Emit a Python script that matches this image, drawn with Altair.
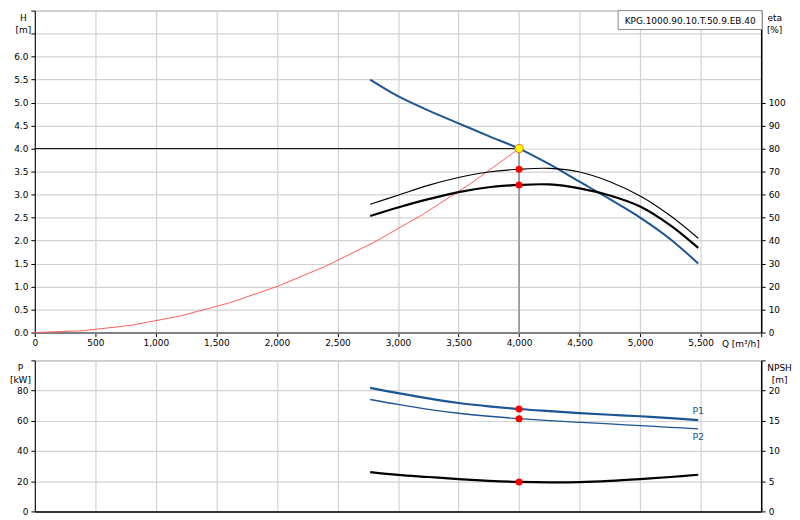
import altair as alt
import pandas as pd

# ---------------- data ----------------
Q_PUMP = [2770, 3000, 3250, 3500, 3750, 4000, 4250, 4500, 4750, 5000, 5250, 5480]
H_PUMP = [5.50, 5.14, 4.83, 4.55, 4.27, 4.00, 3.66, 3.28, 2.90, 2.50, 2.03, 1.50]
ETA_1 = [55.8, 59.7, 64.0, 67.4, 69.8, 71.0, 71.4, 69.8, 65.6, 59.4, 50.8, 41.0]
ETA_2 = [50.7, 54.4, 58.0, 61.1, 63.2, 64.2, 64.4, 62.7, 59.6, 54.8, 46.6, 36.8]
P1 = [81.8, 78.3, 74.8, 71.8, 69.6, 67.8, 66.4, 65.1, 64.0, 63.0, 61.8, 60.5]
P2 = [74.1, 70.8, 67.6, 65.0, 63.0, 61.4, 60.1, 59.0, 57.9, 56.8, 55.7, 54.6]
NPSH = [6.50, 6.05, 5.70, 5.35, 5.07, 4.88, 4.80, 4.85, 5.05, 5.35, 5.70, 6.07]

Q_SYS = [0, 400, 800, 1200, 1600, 2000, 2400, 2800, 3200, 3600, 4000]
H_SYS = [0.0, 0.04, 0.16, 0.36, 0.64, 1.00, 1.44, 1.96, 2.56, 3.24, 4.00]

Q_OP = 4000
H_OP = 4.0
ETA_OP = [71.0, 64.2]
P_OP = [67.8, 61.4]
NPSH_OP = 4.88

X_TICKS = list(range(0, 6001, 500))
H_TICKS = [i * 0.5 for i in range(15)]
ETA_TICKS = list(range(0, 101, 10))
P_TICKS = [0, 20, 40, 60, 80, 100]
NPSH_TICKS = [0, 5, 10, 15, 20, 25]
PUMP_NAME = "KPG.1000.90.10.T.50.9.EB.40"
P_LABELS = ["P1", "P2"]

# ---------------- style ----------------
FONT = "DejaVu Sans"
FS = 9
GRID = "#d2d2d2"
BLUE = "#1c5494"
W = 731
H_TOP = 324
H_BOT = 152
INTERP = "catmull-rom"

df_pump = pd.DataFrame({"Q": Q_PUMP, "H": H_PUMP, "eta1": ETA_1, "eta2": ETA_2,
                        "P1": P1, "P2": P2, "NPSH": NPSH})
df_sys = pd.DataFrame({"Q": Q_SYS, "H": H_SYS})
df_hline = pd.DataFrame({"Q": [0, Q_OP], "H": [H_OP, H_OP]})
df_vline = pd.DataFrame({"Q": [Q_OP], "H": [0.0], "H2": [H_OP]})
df_op = pd.DataFrame({"Q": [Q_OP], "H": [H_OP]})
df_eta_op = pd.DataFrame({"Q": [Q_OP, Q_OP], "eta": ETA_OP})
df_p_op = pd.DataFrame({"Q": [Q_OP, Q_OP], "P": P_OP})
df_n_op = pd.DataFrame({"Q": [Q_OP], "NPSH": [NPSH_OP]})
df_p1_lab = pd.DataFrame({"Q": [Q_PUMP[-1]], "P": [P1[-1]], "label": [P_LABELS[0]]})
df_p2_lab = pd.DataFrame({"Q": [Q_PUMP[-1]], "P": [P2[-1]], "label": [P_LABELS[1]]})

xscale = alt.Scale(domain=[0, 6000], nice=False, zero=False)

x_top = alt.X("Q:Q", scale=xscale, axis=alt.Axis(
    values=X_TICKS,
    labelExpr="datum.value >= 6000 ? '' : format(datum.value, ',')",
    labelFlush=False, title="Q [m³/h]", titleX=691, titleY=7,
    titleAlign="left", titleBaseline="top", titleFontWeight="normal",
    titleFont=FONT, titleFontSize=FS, grid=True, gridColor=GRID, gridWidth=1.2,
    domainColor="#808080", domainWidth=2, tickColor="#000", tickSize=4,
    labelPadding=2, labelFont=FONT, labelFontSize=FS, labelColor="#000"))

x_bot = alt.X("Q:Q", scale=xscale, axis=alt.Axis(
    values=X_TICKS, labels=False, ticks=False, title="",
    grid=True, gridColor=GRID, gridWidth=1.2,
    domainColor="#000", domainWidth=1.5))


def left_axis(values, expr, title, tx):
    return alt.Axis(values=values, labelExpr=expr, orient="left", title=title,
                    titleAngle=0, titleX=tx, titleY=3, titleAlign="center",
                    titleBaseline="top", titleFontWeight="normal", titleFont=FONT,
                    titleFontSize=FS, titleLineHeight=12, grid=True, gridColor=GRID,
                    gridWidth=1.2, domainColor="#000", domainWidth=1,
                    tickColor="#000", tickSize=4, labelPadding=3, labelFont=FONT,
                    labelFontSize=FS, labelColor="#000")


def right_axis(values, expr, title, tx):
    return alt.Axis(values=values, labelExpr=expr, orient="right", title=title,
                    titleAngle=0, titleX=tx, titleY=3, titleAlign="center",
                    titleBaseline="top", titleFontWeight="normal", titleFont=FONT,
                    titleFontSize=FS, titleLineHeight=12, grid=False,
                    domainColor="#000", domainWidth=1.5,
                    tickColor="#000", tickSize=4, labelPadding=3, labelFont=FONT,
                    labelFontSize=FS, labelColor="#000")


H_SCALE = alt.Scale(domain=[0, 7], nice=False)
H_AXIS = left_axis(H_TICKS, "datum.value > 6.1 ? '' : format(datum.value, '.1f')",
                   ["H", "[m]"], -12)
E_SCALE = alt.Scale(domain=[0, 140], nice=False)
E_AXIS = right_axis(ETA_TICKS, "format(datum.value, 'd')", ["eta", "[%]"], 13)
P_SCALE = alt.Scale(domain=[0, 100], nice=False)
P_AXIS = left_axis(P_TICKS, "datum.value >= 100 ? '' : format(datum.value, 'd')",
                   ["P", "[kW]"], -15)
N_SCALE = alt.Scale(domain=[0, 25], nice=False)
N_AXIS = right_axis(NPSH_TICKS, "datum.value >= 25 ? '' : format(datum.value, 'd')",
                    ["NPSH", "[m]"], 18)

yH = alt.Y("H:Q", scale=H_SCALE, axis=H_AXIS)
yP = alt.Y("P:Q", scale=P_SCALE, axis=P_AXIS)
yN = alt.Y("NPSH:Q", scale=N_SCALE, axis=N_AXIS)

# ---------------- top panel: H and eta ----------------
sys_curve = alt.Chart(df_sys).mark_line(color="#ff5c5c", strokeWidth=1).encode(x=x_top, y=yH)
hline = alt.Chart(df_hline).mark_line(color="#000", strokeWidth=1).encode(x=x_top, y=yH)
vline = alt.Chart(df_vline).mark_rule(color="#999", strokeWidth=1.8).encode(
    x=x_top, y=yH, y2=alt.Y2("H2:Q"))
h_curve = alt.Chart(df_pump).mark_line(color=BLUE, strokeWidth=2, interpolate=INTERP).encode(
    x=x_top, y=yH)
op_pt = alt.Chart(df_op).mark_point(filled=True, fill="#ffff00", stroke="#ff6a00",
                                    strokeWidth=1, size=70, opacity=1).encode(x=x_top, y=yH)
box = alt.Chart(df_op).mark_rect(fill="white", stroke="#888", strokeWidth=1).encode(
    x=alt.value(587), x2=alt.value(732), y=alt.value(0), y2=alt.value(19))
box_txt = alt.Chart(pd.DataFrame({"t": [PUMP_NAME]})).mark_text(
    font=FONT, fontSize=9, color="#000", align="center", baseline="middle").encode(
    text="t:N", x=alt.value(659.5), y=alt.value(10))

h_layer = alt.layer(sys_curve, hline, vline, h_curve, op_pt, box, box_txt)

eta1 = alt.Chart(df_pump).mark_line(color="#000", strokeWidth=1.1, interpolate=INTERP).encode(
    x=x_top, y=alt.Y("eta1:Q", scale=E_SCALE, axis=E_AXIS))
eta2 = alt.Chart(df_pump).mark_line(color="#000", strokeWidth=2.2, interpolate=INTERP).encode(
    x=x_top, y=alt.Y("eta2:Q", scale=E_SCALE, axis=E_AXIS))
eta_pts = alt.Chart(df_eta_op).mark_circle(color="#ff0000", size=50, opacity=1).encode(
    x=x_top, y=alt.Y("eta:Q", scale=E_SCALE, axis=E_AXIS))
eta_layer = alt.layer(eta1, eta2, eta_pts)

top = alt.layer(h_layer, eta_layer).resolve_scale(y="independent").properties(
    width=W, height=H_TOP)

# ---------------- bottom panel: P and NPSH ----------------
p1_line = alt.Chart(df_pump).mark_line(color=BLUE, strokeWidth=2.2, interpolate=INTERP).encode(
    x=x_bot, y=alt.Y("P1:Q", scale=P_SCALE, axis=P_AXIS))
p2_line = alt.Chart(df_pump).mark_line(color=BLUE, strokeWidth=1.3, interpolate=INTERP).encode(
    x=x_bot, y=alt.Y("P2:Q", scale=P_SCALE, axis=P_AXIS))
p_pts = alt.Chart(df_p_op).mark_circle(color="#ff0000", size=50, opacity=1).encode(
    x=x_bot, y=yP)
p1_lab = alt.Chart(df_p1_lab).mark_text(font=FONT, fontSize=9.5, color=BLUE, dy=-9,
                                        align="center").encode(x=x_bot, y=yP, text="label:N")
p2_lab = alt.Chart(df_p2_lab).mark_text(font=FONT, fontSize=9.5, color=BLUE, dy=8,
                                        align="center").encode(x=x_bot, y=yP, text="label:N")
p_layer = alt.layer(p1_line, p2_line, p_pts, p1_lab, p2_lab)

n_line = alt.Chart(df_pump).mark_line(color="#000", strokeWidth=2.2, interpolate=INTERP).encode(
    x=x_bot, y=yN)
n_pt = alt.Chart(df_n_op).mark_circle(color="#ff0000", size=50, opacity=1).encode(x=x_bot, y=yN)
n_layer = alt.layer(n_line, n_pt)

bottom = alt.layer(p_layer, n_layer).resolve_scale(y="independent").properties(
    width=W, height=H_BOT)

chart = alt.vconcat(top, bottom, spacing=10).properties(
    padding={"left": 0, "top": 0, "right": 0, "bottom": 0},
    background="white").configure_view(stroke="#999", strokeWidth=1)

chart.save("out.html", embed_options={"renderer": "svg", "actions": False})
